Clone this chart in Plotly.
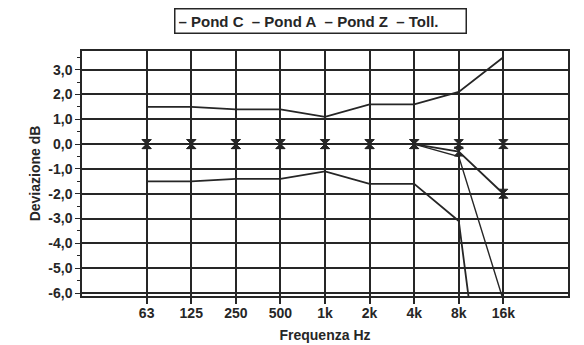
import plotly.graph_objects as go

# Octave-band centre frequencies (category labels)
freq_labels = ["63", "125", "250", "500", "1k", "2k", "4k", "8k", "16k"]

# Measured weighting deviations, dB
pond_c = [0.0, 0.0, 0.0, 0.0, 0.0, 0.0, 0.0, -0.3, -2.0]
pond_a = [0.0, 0.0, 0.0, 0.0, 0.0, 0.0, 0.0, -0.5, -6.3]
pond_z = [0.0, 0.0, 0.0, 0.0, 0.0, 0.0, 0.0, 0.0, 0.0]

# Tolerance limits, dB
toll_upper = [1.5, 1.5, 1.4, 1.4, 1.1, 1.6, 1.6, 2.1, 3.5]
toll_lower = [-1.5, -1.5, -1.4, -1.4, -1.1, -1.6, -1.6, -3.1, -17.0]

# Y axis tick labels (comma decimal)
y_ticks = [3, 2, 1, 0, -1, -2, -3, -4, -5, -6]
y_ticktext = ["3,0", "2,0", "1,0", "0,0", "-1,0", "-2,0", "-3,0", "-4,0", "-5,0", "-6,0"]

# Legend entries, in display order
legend_names = ["Pond C", "Pond A", "Pond Z", "Toll."]

INK = "#262626"
FONT = "Liberation Sans, Arial, sans-serif"
TXT = dict(family=FONT, size=14, color=INK, weight="bold")

fig = go.Figure()

line_style = dict(color=INK, width=1.8)

fig.add_trace(go.Scatter(x=freq_labels, y=pond_c, name="Pond C", mode="lines", line=line_style))
fig.add_trace(go.Scatter(x=freq_labels, y=pond_a, name="Pond A", mode="lines",
                         line=dict(color=INK, width=1.4)))
fig.add_trace(go.Scatter(x=freq_labels, y=pond_z, name="Pond Z", mode="lines", line=line_style))
fig.add_trace(go.Scatter(x=freq_labels, y=toll_upper, name="Toll.", mode="lines", line=line_style))
fig.add_trace(go.Scatter(x=freq_labels, y=toll_lower, name="Toll.", mode="lines", line=line_style))

# Point markers on the Z and C curves
marker_style = dict(symbol="hourglass", size=9, color=INK, line=dict(color=INK, width=1))
fig.add_trace(go.Scatter(x=freq_labels, y=pond_z, mode="markers", marker=marker_style,
                         hoverinfo="skip"))
fig.add_trace(go.Scatter(x=freq_labels, y=pond_c, mode="markers", marker=marker_style,
                         hoverinfo="skip"))

# Boxed one-line legend above the plot
gap = "\u00a0\u00a0"
legend_text = gap.join("\u2013\u00a0" + n for n in legend_names)
fig.add_annotation(
    text=legend_text, xref="paper", yref="paper", x=0.49, xanchor="center",
    y=1.122, yanchor="middle", showarrow=False,
    font=dict(family=FONT, size=15, color=INK, weight="bold"),
    bordercolor=INK, borderwidth=1.5, borderpad=3, bgcolor="white",
    width=284, align="left",
)

fig.update_layout(
    width=584, height=345,
    margin=dict(l=82, r=16, t=51, b=49),
    paper_bgcolor="white", plot_bgcolor="white",
    font=TXT,
    showlegend=False,
)

fig.update_xaxes(
    type="category", range=[-1.45, 9.45], automargin=False,
    showgrid=True, gridcolor=INK, gridwidth=1.5,
    showline=True, linecolor=INK, linewidth=1.5, mirror=True,
    ticks="outside", ticklen=6, tickcolor=INK, tickwidth=1.5,
    tickfont=TXT, ticklabelstandoff=-3,
    title=dict(text="Frequenza Hz", font=TXT, standoff=11),
    zeroline=False,
)

fig.update_yaxes(
    range=[-6.12, 3.75], automargin=False,
    tickmode="array", tickvals=y_ticks, ticktext=y_ticktext,
    showgrid=True, gridcolor=INK, gridwidth=1.5,
    showline=True, linecolor=INK, linewidth=1.5, mirror=True,
    ticks="outside", ticklen=5, tickcolor=INK, tickwidth=1.2,
    minor=dict(tickmode="linear", tick0=0.5, dtick=1, ticks="outside",
               ticklen=3, tickcolor=INK, showgrid=False),
    tickfont=TXT,
    title=dict(text="Deviazione dB", font=TXT, standoff=4),
    zeroline=False,
)

fig.write_html("out.html")
